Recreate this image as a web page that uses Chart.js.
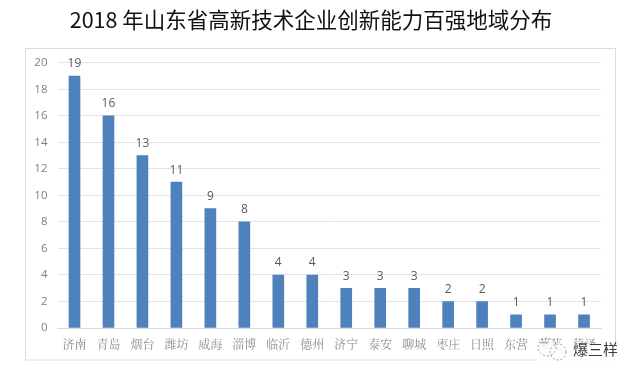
<!DOCTYPE html>
<html>
<head>
<meta charset="utf-8">
<style>
  html, body { margin: 0; padding: 0; background: #fff; }
  #wrap { position: relative; width: 638px; height: 378px; }
</style>
<script src="https://cdn.jsdelivr.net/npm/chart.js@4"></script>
</head>
<body>
<div id="wrap"><canvas id="chart" width="638" height="378"></canvas></div>
<script>
// --- Data ---
const cities = ['济南', '青岛', '烟台', '潍坊', '威海', '淄博', '临沂', '德州', '济宁', '泰安', '聊城', '枣庄', '日照', '东营', '莱芜', '菏泽'];
const counts = [19, 16, 13, 11, 9, 8, 4, 4, 3, 3, 3, 2, 2, 1, 1, 1];
const yTicks = [0, 2, 4, 6, 8, 10, 12, 14, 16, 18, 20];
const titleText = '2018 年山东省高新技术企业创新能力百强地域分布';
const watermark = '爆三样';

const cjkFont = '"Noto Sans CJK SC", sans-serif';
const numFont = '"Open Sans", "Noto Sans", sans-serif';

// Outer frame, value labels and watermark
const extras = {
    id: 'extras',
    beforeDraw(chart) {
        const c = chart.ctx;
        c.save();
        c.strokeStyle = '#dcdcdc';
        c.lineWidth = 1;
        c.strokeRect(25.5, 48.5, 590, 311.5);
        c.restore();
    },
    afterDraw(chart) {
        const c = chart.ctx;
        const meta = chart.getDatasetMeta(0);
        c.save();
        c.font = '12px ' + numFont;
        c.fillStyle = '#595959';
        c.textAlign = 'center';
        c.textBaseline = 'bottom';
        meta.data.forEach((bar, i) => c.fillText(counts[i], bar.x, bar.y - 6));

        // watermark sits on top of the last labels
        c.fillStyle = 'rgba(255,255,255,0.8)';
        c.fillRect(536, 344, 82, 17);
        c.strokeStyle = '#9a9a9a';
        c.lineWidth = 1;
        c.setLineDash([2, 2]);
        c.beginPath();
        c.arc(547, 347, 9, 0, Math.PI * 2);
        c.stroke();
        c.beginPath();
        c.arc(558, 352, 8, 0, Math.PI * 2);
        c.stroke();
        c.setLineDash([]);
        c.font = '15px ' + cjkFont;
        c.fillStyle = '#3c3c3c';
        c.textAlign = 'left';
        c.textBaseline = 'middle';
        c.fillText(watermark, 573, 349);
        c.restore();
    }
};

new Chart(document.getElementById('chart'), {
    type: 'bar',
    data: {
        labels: cities,
        datasets: [{
            data: counts,
            backgroundColor: '#4f81bd',
            barThickness: 11
        }]
    },
    options: {
        responsive: false,
        animation: false,
        layout: { padding: { left: 21, right: 37, top: 0, bottom: 26 } },
        plugins: {
            legend: { display: false },
            tooltip: { enabled: false },
            title: {
                display: true,
                text: titleText,
                color: '#111',
                font: { family: cjkFont, size: 21.5, weight: 'normal' },
                padding: { top: 7, bottom: 30 }
            }
        },
        scales: {
            x: {
                afterFit(axis) { axis.height = 24; },
                grid: { display: false, drawTicks: false },
                border: { color: '#d9d9d9' },
                ticks: {
                    color: '#8c8c8c',
                    font: { family: '"Noto Serif CJK SC", "Noto Sans CJK SC", serif', size: 12 },
                    padding: 9,
                    autoSkip: false,
                    maxRotation: 0
                }
            },
            y: {
                min: 0,
                max: 20,
                afterBuildTicks(axis) { axis.ticks = yTicks.map(v => ({ value: v })); },
                afterFit(axis) { axis.width = 36.5; },
                grid: { color: '#e4e4e4', drawTicks: false },
                border: { display: false },
                ticks: {
                    color: '#7f7f7f',
                    font: { family: numFont, size: 11.5 },
                    padding: 10
                }
            }
        }
    },
    plugins: [extras]
});
</script>
</body>
</html>
